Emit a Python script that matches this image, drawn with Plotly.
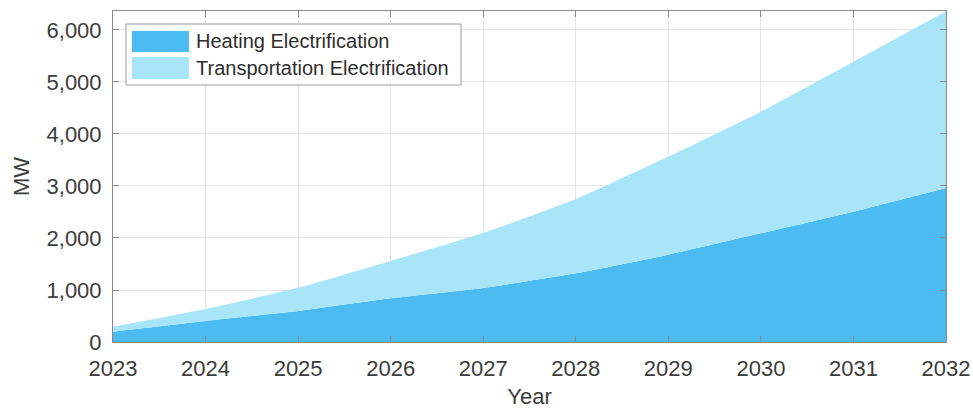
import plotly.graph_objects as go

years = [2023, 2024, 2025, 2026, 2027, 2028, 2029, 2030, 2031, 2032]
heating = [198, 404, 596, 840, 1040, 1321, 1680, 2090, 2505, 2960]
transportation = [97, 231, 449, 720, 1055, 1427, 1885, 2340, 2885, 3400]

series_names = ["Heating Electrification", "Transportation Electrification"]
colors = ["rgb(75,187,241)", "rgb(168,229,248)"]

FONT = "Liberation Sans, Arial, sans-serif"
TXT = "#3c3c3c"
AX = "#8a8a8a"
GRID = "#e4e4e4"

fig = go.Figure()
fig.add_trace(go.Scatter(x=years, y=heating, name=series_names[0], mode="lines",
                         line=dict(width=0, color=colors[0], shape="spline", smoothing=0.5),
                         fillcolor=colors[0], stackgroup="a"))
fig.add_trace(go.Scatter(x=years, y=transportation, name=series_names[1], mode="lines",
                         line=dict(width=0, color=colors[1], shape="spline", smoothing=0.5),
                         fillcolor=colors[1], stackgroup="a"))

fig.update_layout(
    width=973, height=409,
    margin=dict(l=113, r=27, t=11, b=67),
    paper_bgcolor="white", plot_bgcolor="white",
    font=dict(family=FONT, size=22, color=TXT),
    showlegend=False,
)
fig.update_xaxes(range=[years[0], years[-1]], tickmode="array", tickvals=years,
                 ticktext=[str(y) for y in years], automargin=False,
                 showgrid=True, gridcolor=GRID, gridwidth=1,
                 showline=True, linecolor=AX, linewidth=1, mirror="ticks",
                 ticks="inside", ticklen=6, tickcolor=AX, ticklabelstandoff=7,
                 zeroline=False,
                 title=dict(text="Year", standoff=8, font=dict(size=22, color=TXT)))
fig.update_yaxes(range=[0, 6365], tickvals=[0, 1000, 2000, 3000, 4000, 5000, 6000],
                 tickformat=",", automargin=False,
                 showgrid=True, gridcolor=GRID, gridwidth=1,
                 showline=True, linecolor=AX, linewidth=1, mirror="ticks",
                 ticks="inside", ticklen=6, tickcolor=AX, ticklabelstandoff=6,
                 zeroline=False,
                 title=dict(text="MW", standoff=10, font=dict(size=22, color=TXT)))

# custom legend (MATLAB-style)
fig.add_shape(type="rect", xref="paper", yref="paper", x0=0.0156, x1=0.4178, y0=0.7764, y1=0.9607,
              line=dict(color="#9a9a9a", width=1), fillcolor="white", layer="above")
rows = [(0.8761, 0.9396, 0.9079), (0.7946, 0.8610, 0.8278)]
for i, (y0, y1, yc) in enumerate(rows):
    fig.add_shape(type="rect", xref="paper", yref="paper", x0=0.0228, x1=0.0912, y0=y0, y1=y1,
                  line=dict(width=0), fillcolor=colors[i], layer="above")
    fig.add_annotation(xref="paper", yref="paper", x=0.0972, y=yc, text=series_names[i],
                       showarrow=False, xanchor="left", yanchor="middle",
                       font=dict(size=20, color="#2e2e2e", family=FONT))

fig.write_html("out.html",
               config={"responsive": False, "displayModeBar": False},
               post_script="document.body.style.margin='0';document.body.style.overflow='hidden';")
